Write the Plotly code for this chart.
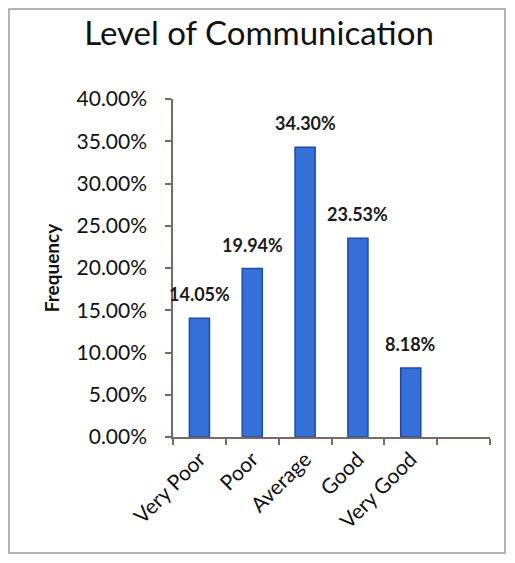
import plotly.graph_objects as go

categories = ["Very Poor", "Poor", "Average", "Good", "Very Good", " "]
frequency = [0.1405, 0.1994, 0.3430, 0.2353, 0.0818, None]
y_ticks = [0.0, 0.05, 0.10, 0.15, 0.20, 0.25, 0.30, 0.35, 0.40]

FONT = "Lato"
AXIS_COLOR = "#7a6a62"

# page offset of the figure (body margin)
OFF = 8
W, H = 515 - 2 * OFF, 563 - 2 * OFF
# plot area in figure pixels
L, R, T, B = 173 - OFF, 490 - OFF, 99 - OFF, 437 - OFF

def px_x(p):
    return (p - L) / (R - L)

def px_y(p):
    return (B - p) / (B - T)

fig = go.Figure()
fig.add_trace(go.Bar(
    x=categories,
    y=frequency,
    marker=dict(color="#3470d8", line=dict(color="#1d4aa6", width=1.5)),
    showlegend=False,
))

for c, v in zip(categories, frequency):
    if v is None:
        continue
    fig.add_annotation(
        x=c, y=v, text=f"{v*100:.2f}%", showarrow=False,
        yanchor="bottom", yshift=11,
        font=dict(family=FONT, size=18, color="#1a1a1a", weight="bold"),
    )

fig.add_shape(type="rect", xref="paper", yref="paper",
              x0=px_x(1), x1=px_x(W - 2), y0=px_y(H - 2), y1=px_y(1),
              line=dict(color="#9a9a9a", width=1.5), layer="below")

fig.update_layout(
    width=W, height=H,
    margin=dict(l=L, r=W - R, t=T, b=H - B, autoexpand=False),
    paper_bgcolor="white", plot_bgcolor="white",
    bargap=0.62,
    title=dict(text="Level of Communication", x=(259 - OFF) / W, xref="container",
               xanchor="center", y=1 - (33 - OFF) / H, yref="container", yanchor="middle",
               font=dict(family=FONT, size=33, color="#111111")),
    font=dict(family=FONT, color="#111111"),
)

fig.update_yaxes(
    range=[0, 0.40], tickvals=y_ticks, tickformat=".2%",
    showgrid=False, zeroline=False, automargin=False,
    showline=True, linecolor=AXIS_COLOR, linewidth=1.5,
    ticks="outside", ticklen=6, tickcolor=AXIS_COLOR, tickwidth=1.5,
    tickfont=dict(family=FONT, size=21, color="#111111"),
    ticklabelstandoff=14,
    title=dict(text="Frequency", font=dict(family=FONT, size=19, color="#111111", weight="bold"), standoff=12),
)
fig.update_xaxes(
    type="category", categoryorder="array", categoryarray=categories,
    range=[-0.5, 5.5],
    showgrid=False, zeroline=False, automargin=False,
    showline=True, linecolor=AXIS_COLOR, linewidth=1.5,
    ticks="outside", ticklen=6, tickcolor=AXIS_COLOR, tickwidth=1.5,
    tickson="boundaries", tickangle=-45,
    tickfont=dict(family=FONT, size=21, color="#111111"),
)

fig.write_html("out.html")
